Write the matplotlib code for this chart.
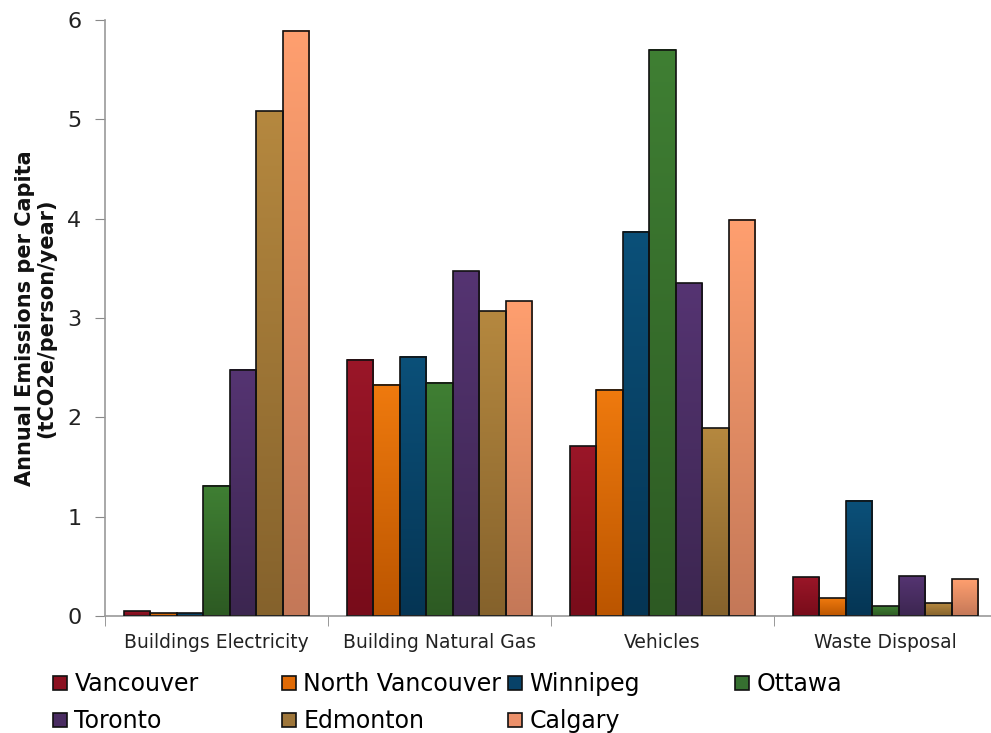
import numpy as np
import matplotlib
matplotlib.use("Agg")
import matplotlib.pyplot as plt
from matplotlib.colors import to_rgb
from matplotlib.lines import Line2D

plt.rcParams['font.family'] = ['DejaVu Sans']

categories = ["Buildings Electricity", "Building Natural Gas", "Vehicles", "Waste Disposal"]
cities = ["Vancouver", "North Vancouver", "Winnipeg", "Ottawa", "Toronto", "Edmonton", "Calgary"]

vancouver = [0.05, 2.58, 1.71, 0.39]
north_vancouver = [0.03, 2.33, 2.28, 0.18]
winnipeg = [0.03, 2.61, 3.87, 1.16]
ottawa = [1.31, 2.35, 5.70, 0.10]
toronto = [2.48, 3.47, 3.35, 0.40]
edmonton = [5.08, 3.07, 1.89, 0.13]
calgary = [5.89, 3.17, 3.99, 0.37]
series = [vancouver, north_vancouver, winnipeg, ottawa, toronto, edmonton, calgary]

# top colour, bottom colour of each bar gradient
top_colors = ["#9a1628", "#ef7a0e", "#0b5079", "#3f7f33", "#553472", "#b5883f", "#ff9f6f"]
bot_colors = ["#780c1a", "#bb5500", "#053554", "#2d5a23", "#3c2650", "#85622c", "#c47858"]
legend_colors = ["#8b1121", "#e06a05", "#084268", "#367030", "#4a2d62", "#9e763a", "#eb906a"]

fig = plt.figure(figsize=(9.91, 7.33), dpi=100)
ax = fig.add_axes([105 / 991, 1 - 616 / 733, 892 / 991, 596 / 733])

n = len(cities)
bw = 0.1185
x = np.arange(len(categories))
steps = np.linspace(0, 1, 128)[:, None, None]

for i, vals in enumerate(series):
    top = np.array(to_rgb(top_colors[i]))
    bot = np.array(to_rgb(bot_colors[i]))
    grad = top * (1 - steps) + bot * steps
    offs = (i - (n - 1) / 2) * bw
    for xc, v in zip(x, vals):
        x0 = xc + offs - bw / 2
        ax.imshow(grad, extent=[x0, x0 + bw, 0, v], aspect='auto', origin='upper',
                  interpolation='bilinear', zorder=2)
    ax.bar(x + offs, vals, width=bw, facecolor='none', edgecolor='#111111',
           linewidth=1.2, zorder=3)

ax.set_xlim(-0.5, len(categories) - 0.5)
ax.set_ylim(0, 6)
ax.set_yticks(range(0, 7))
ax.tick_params(axis='y', labelsize=16, colors='#222222', direction='out', length=7,
               color='#888888', pad=10)
ax.set_xticks(x)
ax.set_xticklabels(categories, fontsize=13.5, color='#222222')
ax.tick_params(axis='x', length=0, pad=12)
ax.set_xticks(np.arange(-0.5, len(categories), 1), minor=True)
ax.tick_params(axis='x', which='minor', length=7, color='#888888', direction='out')

for s in ['top', 'right']:
    ax.spines[s].set_visible(False)
for s in ['left', 'bottom']:
    ax.spines[s].set_color('#999999')
    ax.spines[s].set_linewidth(1.2)

ax.set_ylabel("Annual Emissions per Capita\n(tCO2e/person/year)", fontsize=15,
              fontweight='bold', color='#111111', labelpad=8, linespacing=1.05)

# legend laid out row by row: one legend per column
col_x = [0.050, 0.281, 0.509, 0.738]
for c in range(4):
    idx = [k for k in (c, c + 4) if k < n]
    handles = [Line2D([], [], marker='s', linestyle='none', markersize=10.5,
                      markerfacecolor=legend_colors[k], markeredgecolor='#111111',
                      markeredgewidth=1.2) for k in idx]
    leg = fig.legend(handles, [cities[k] for k in idx], loc='upper left',
                     bbox_to_anchor=(col_x[c], 0.0835), frameon=False, fontsize=17,
                     handletextpad=0.15, labelspacing=0.55, handlelength=0.9,
                     borderpad=0.0, borderaxespad=0.0)

fig.savefig("out.png", dpi=100)
